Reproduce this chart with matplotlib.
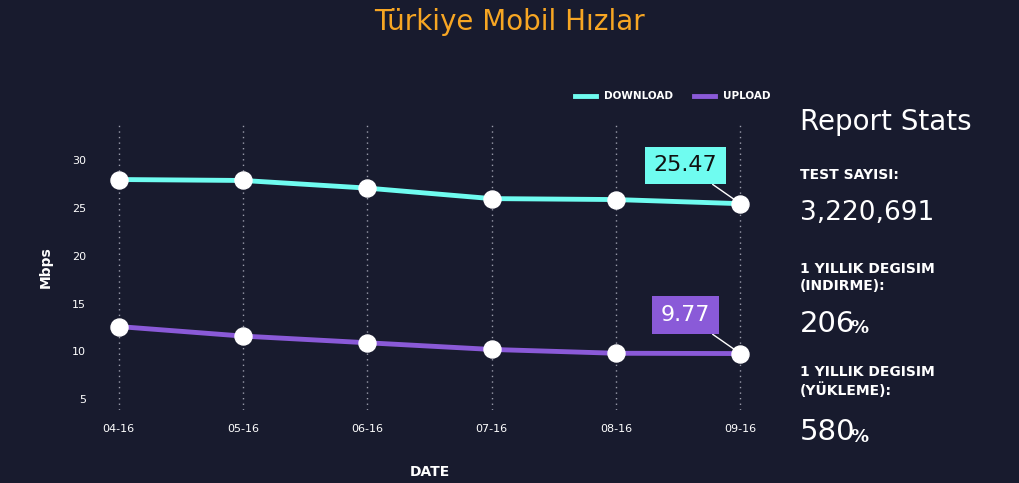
import matplotlib
matplotlib.use("Agg")
import matplotlib.pyplot as plt

# --- data ---
dates = ["04-16", "05-16", "06-16", "07-16", "08-16", "09-16"]
download = [28.0, 27.9, 27.1, 26.0, 25.9, 25.47]
upload = [12.6, 11.6, 10.9, 10.2, 9.8, 9.77]
yticks = [5, 10, 15, 20, 25, 30]

BG = "#181b2e"
CYAN = "#6ffcf0"
PURPLE = "#8a5ad8"
ORANGE = "#f7a623"

fig = plt.figure(figsize=(10.19, 4.83), dpi=100, facecolor=BG)
ax = fig.add_axes([0.098, 0.151, 0.648, 0.59], facecolor=BG)

x = list(range(len(dates)))
for xi in x:
    ax.axvline(xi, color="#9a9cab", ls=(0, (1, 3)), lw=1, zorder=0)

ax.plot(x, download, color=CYAN, lw=3.5, zorder=2, label="DOWNLOAD")
ax.plot(x, upload, color=PURPLE, lw=3.5, zorder=2, label="UPLOAD")
ax.scatter(x, download, s=150, color="white", zorder=3)
ax.scatter(x, upload, s=150, color="white", zorder=3)

for vals, fc, tc in [(download, CYAN, "#111"), (upload, PURPLE, "white")]:
    ax.annotate(f"{vals[-1]:.2f}", xy=(x[-1], vals[-1]), xytext=(x[-1] - 0.44, vals[-1] + 4.0),
                ha="center", va="center", fontsize=16, color=tc,
                bbox=dict(boxstyle="square,pad=0.4", fc=fc, ec="none"),
                arrowprops=dict(arrowstyle="-", color="white", lw=1, shrinkA=0, shrinkB=6), zorder=4)

ax.set_xlim(-0.15, 5.16)
ax.set_ylim(3.85, 33.7)
ax.set_xticks(x)
ax.set_xticklabels(dates)
ax.set_yticks(yticks)
ax.tick_params(colors="white", labelsize=8, length=0, pad=10)
for s in ax.spines.values():
    s.set_visible(False)
ax.set_ylabel("Mbps", color="white", fontsize=10, fontweight="bold", labelpad=14)
ax.set_xlabel("DATE", color="white", fontsize=10, fontweight="bold", labelpad=22)

leg = ax.legend(loc="lower right", bbox_to_anchor=(1.03, 1.05), ncol=2, frameon=False,
                fontsize=7.5, handlelength=2, handletextpad=0.8, columnspacing=2)
for t in leg.get_texts():
    t.set_color("white")
    t.set_fontweight("bold")

fig.text(0.5, 0.955, "Türkiye Mobil Hızlar", color=ORANGE, fontsize=20, ha="center", va="center")

fx = 0.785
fig.text(fx, 0.748, "Report Stats", color="white", fontsize=20, va="center")
fig.text(fx, 0.637, "TEST SAYISI:", color="white", fontsize=10, fontweight="bold", va="center")
fig.text(fx, 0.56, "3,220,691", color="white", fontsize=19, va="center")
fig.text(fx, 0.425, "1 YILLIK DEGISIM\n(INDIRME):", color="white", fontsize=10, fontweight="bold",
         va="center", linespacing=1.3)
fig.text(fx, 0.33, "206", color="white", fontsize=21, va="center")
fig.text(fx + 0.05, 0.32, "%", color="white", fontsize=13, va="center", fontweight="bold")
fig.text(fx, 0.21, "1 YILLIK DEGISIM\n(YÜKLEME):", color="white", fontsize=10, fontweight="bold",
         va="center", linespacing=1.3)
fig.text(fx, 0.105, "580", color="white", fontsize=21, va="center")
fig.text(fx + 0.05, 0.095, "%", color="white", fontsize=13, va="center", fontweight="bold")

fig.savefig("out.png", dpi=100, facecolor=BG)
